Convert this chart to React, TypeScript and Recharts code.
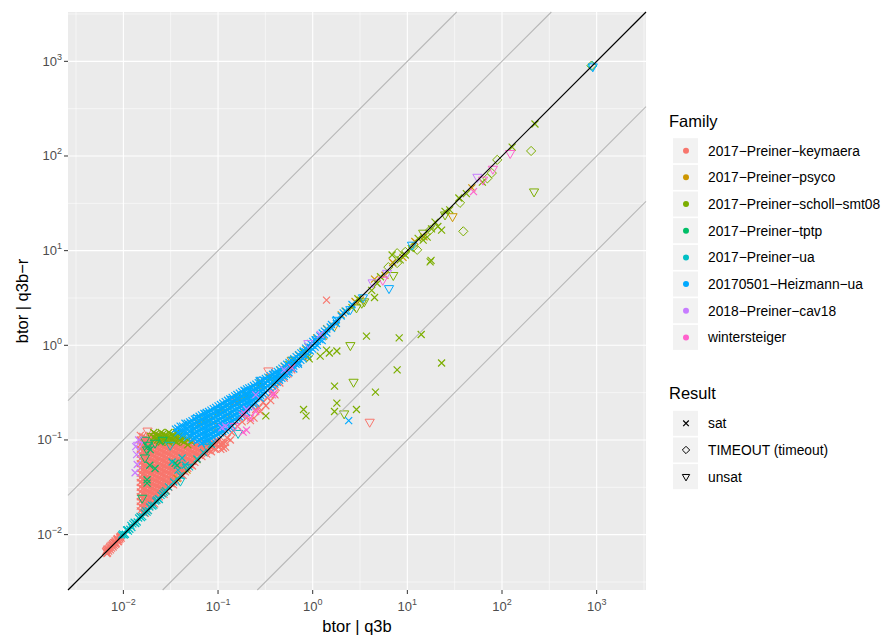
import React from "react";
import { ScatterChart, Scatter, XAxis, YAxis, CartesianGrid, ReferenceLine } from "recharts";

type Pt = [number, number];
type Col = [number, number[]];

const FAMILIES = [
  "2017−Preiner−keymaera",
  "2017−Preiner−psyco",
  "2017−Preiner−scholl−smt08",
  "2017−Preiner−tptp",
  "2017−Preiner−ua",
  "20170501−Heizmann−ua",
  "2018−Preiner−cav18",
  "wintersteiger",
];
const COLORS = ["#F8766D", "#CD9600", "#7CAE00", "#00BE67", "#00BFC4", "#00A9FF", "#C77CFF", "#FF61CC"];
const RESULTS = [
  { kind: "sat", label: "sat" },
  { kind: "timeout", label: "TIMEOUT (timeout)" },
  { kind: "unsat", label: "unsat" },
];

const MAJOR = [0.01, 0.1, 1, 10, 100, 1000];
const MINOR = [0.00316, 0.0316, 0.316, 3.16, 31.6, 316, 3162];
const DOMAIN: [number, number] = [0.0026, 3320];
const FACTORS = [100, 10, 1, 0.1, 0.01];

// 2017-Preiner-keymaera
const keymaeraSatDiag: Pt[] = [
  [0.0066, 0.0068], [0.0068, 0.0064], [0.0069, 0.0071], [0.0071, 0.0073], [0.0073, 0.0069], [0.0074, 0.0077],
  [0.0076, 0.0078], [0.0078, 0.0074], [0.0079, 0.0082], [0.0081, 0.0083], [0.0083, 0.0079], [0.0085, 0.0088],
  [0.0087, 0.0089], [0.0089, 0.0085], [0.0091, 0.0094], [0.0093, 0.0095],
  [0.0065, 0.0066], [0.0067, 0.0063], [0.0067, 0.007], [0.007, 0.0067], [0.0072, 0.0075], [0.0075, 0.0072],
  [0.0077, 0.008], [0.008, 0.0077], [0.0082, 0.0086], [0.0084, 0.0081], [0.0086, 0.0091], [0.0088, 0.0084],
  [0.009, 0.0088], [0.0092, 0.009], [0.0094, 0.0097], [0.0095, 0.0092],
];
const keymaeraSatCloud: Col[] = [
  [0.0151, [0.112, 0.1, 0.0891, 0.0794, 0.0708, 0.0631, 0.0562, 0.0501, 0.0447, 0.0398, 0.0355, 0.0316, 0.0282, 0.0251, 0.0224, 0.02, 0.0178]],
  [0.017, [0.106, 0.0944, 0.0841, 0.075, 0.0668, 0.0596, 0.0531, 0.0473, 0.0422, 0.0376, 0.0335, 0.0299, 0.0266, 0.0237, 0.0211, 0.0188, 0.0168]],
  [0.019, [0.112, 0.1, 0.0891, 0.0794, 0.0708, 0.0631, 0.0562, 0.0501, 0.0447, 0.0398, 0.0355, 0.0316, 0.0282, 0.0251, 0.0224, 0.02]],
  [0.0214, [0.106, 0.0944, 0.0841, 0.075, 0.0668, 0.0596, 0.0531, 0.0473, 0.0422, 0.0376, 0.0335, 0.0299, 0.0266, 0.0237, 0.0211]],
  [0.024, [0.112, 0.1, 0.0891, 0.0794, 0.0708, 0.0631, 0.0562, 0.0501, 0.0447, 0.0398, 0.0355, 0.0316, 0.0282, 0.0251]],
  [0.0269, [0.106, 0.0944, 0.0841, 0.075, 0.0668, 0.0596, 0.0531, 0.0473, 0.0422, 0.0376, 0.0335, 0.0299, 0.0266]],
  [0.0302, [0.1, 0.0891, 0.0794, 0.0708, 0.0631, 0.0562, 0.0501, 0.0447, 0.0398, 0.0355, 0.0316]],
  [0.0339, [0.0944, 0.0841, 0.075, 0.0668, 0.0596, 0.0531, 0.0473, 0.0422, 0.0376, 0.0335]],
  [0.038, [0.1, 0.0891, 0.0794, 0.0708, 0.0631, 0.0562, 0.0501, 0.0447, 0.0398]],
  [0.0427, [0.0944, 0.0841, 0.075, 0.0668, 0.0596, 0.0531, 0.0473, 0.0422]],
  [0.0479, [0.0891, 0.0794, 0.0708, 0.0631, 0.0562, 0.0501]],
  [0.0537, [0.0944, 0.0841, 0.075, 0.0668, 0.0596, 0.0531]],
  [0.0603, [0.0891, 0.0794, 0.0708, 0.0631]],
  [0.0676, [0.0841, 0.075, 0.0668]],
  [0.0759, [0.0891, 0.0794, 0.0708]],
  [0.0851, [0.0944, 0.0841, 0.075]],
  [0.0955, [0.1, 0.0891, 0.0794]],
  [0.107, [0.0891, 0.0794]],
  [0.12, [0.0944, 0.0841]],
  [0.135, [0.1]],
];
const keymaeraSatCloudFill: Col[] = [
  [0.016, [0.109, 0.0972, 0.0866, 0.0772, 0.0688, 0.0613, 0.0546, 0.0487, 0.0434, 0.0387, 0.0345, 0.0307, 0.0274, 0.0244, 0.0218, 0.0194, 0.0173]],
  [0.018, [0.103, 0.0917, 0.0818, 0.0729, 0.065, 0.0579, 0.0516, 0.046, 0.041, 0.0365, 0.0326, 0.029, 0.0259, 0.0231, 0.0205, 0.0183]],
  [0.0202, [0.109, 0.0972, 0.0866, 0.0772, 0.0688, 0.0613, 0.0546, 0.0487, 0.0434, 0.0387, 0.0345, 0.0307, 0.0274, 0.0244, 0.0218]],
  [0.0226, [0.103, 0.0917, 0.0818, 0.0729, 0.065, 0.0579, 0.0516, 0.046, 0.041, 0.0365, 0.0326, 0.029, 0.0259, 0.0231]],
  [0.0254, [0.109, 0.0972, 0.0866, 0.0772, 0.0688, 0.0613, 0.0546, 0.0487, 0.0434, 0.0387, 0.0345, 0.0307, 0.0274]],
  [0.0285, [0.103, 0.0917, 0.0818, 0.0729, 0.065, 0.0579, 0.0516, 0.046, 0.041, 0.0365, 0.0326, 0.029]],
  [0.032, [0.0972, 0.0866, 0.0772, 0.0688, 0.0613, 0.0546, 0.0487, 0.0434, 0.0387, 0.0345]],
  [0.0359, [0.0917, 0.0818, 0.0729, 0.065, 0.0579, 0.0516, 0.046, 0.041, 0.0365]],
  [0.0403, [0.0972, 0.0866, 0.0772, 0.0688, 0.0613, 0.0546, 0.0487, 0.0434]],
  [0.0452, [0.0917, 0.0818, 0.0729, 0.065, 0.0579, 0.0516, 0.046]],
  [0.0507, [0.0866, 0.0772, 0.0688, 0.0613, 0.0546]],
  [0.0569, [0.0917, 0.0818, 0.0729, 0.065, 0.0579]],
  [0.0638, [0.0866, 0.0772, 0.0688]],
  [0.0716, [0.0917, 0.0818, 0.0729]],
  [0.0804, [0.0866, 0.0772]],
  [0.0902, [0.0917, 0.0818]],
  [0.101, [0.0972, 0.0866]],
  [0.114, [0.0917, 0.0818]],
];
const keymaeraSatBand: Pt[] = [
  [0.11, 0.095], [0.125, 0.105], [0.14, 0.12], [0.16, 0.14], [0.18, 0.155], [0.2, 0.17], [0.22, 0.16], [0.24, 0.17],
  [0.25, 0.21], [0.27, 0.22], [0.28, 0.2], [0.3, 0.25], [0.32, 0.23], [0.33, 0.28], [0.36, 0.26], [0.37, 0.32],
  [0.4, 0.3], [0.41, 0.36], [0.45, 0.4], [0.5, 0.45], [0.55, 0.5], [0.6, 0.55], [0.7, 0.65], [0.8, 0.75],
  [0.15, 0.25], [0.28, 0.42], [1.4, 3.0],
];
const keymaeraUnsat: Pt[] = [[0.018, 0.125], [0.34, 0.54], [4.0, 0.155]];

// 2017-Preiner-psyco
const psycoSat: Pt[] = [
  [0.028, 0.029], [0.037, 0.039], [0.047, 0.048], [0.06, 0.062], [0.05, 0.11], [0.063, 0.15], [0.079, 0.16],
  [0.11, 0.21], [0.13, 0.18], [0.16, 0.25], [0.2, 0.29], [0.25, 0.35], [0.3, 0.37], [0.35, 0.45], [0.45, 0.5],
  [0.5, 0.6], [0.71, 0.79], [0.85, 0.9], [1.1, 1.2], [1.3, 1.25], [1.4, 1.5], [2.0, 2.1], [2.8, 2.9], [3.2, 3.0],
  [4.5, 5.0], [5.8, 5.5], [7, 7.5], [9, 8.5], [12, 12.5], [15, 14], [48, 46],
];
const psycoUnsat: Pt[] = [[0.16, 0.26], [0.6, 0.7], [30, 23], [0.09, 0.14], [1.7, 1.6]];

// 2017-Preiner-scholl-smt08
const schollSatTop: Col[] = [
  [0.0209, [0.12, 0.107]], [0.0219, [0.116, 0.103]], [0.0229, [0.113, 0.1]], [0.024, [0.11, 0.098]],
  [0.0251, [0.12, 0.107, 0.095]], [0.0263, [0.116, 0.103]], [0.0275, [0.113, 0.1]], [0.0288, [0.11, 0.098]],
  [0.0302, [0.12, 0.107, 0.095]], [0.0316, [0.116, 0.103]], [0.0331, [0.113, 0.1]], [0.0347, [0.11, 0.098]],
  [0.0363, [0.12, 0.107, 0.095]], [0.038, [0.116, 0.103]], [0.0398, [0.113, 0.1]], [0.0417, [0.11, 0.098]],
  [0.0437, [0.107, 0.095]], [0.0479, [0.1, 0.089]], [0.0525, [0.095]],
];
const schollSat: Pt[] = [
  [0.056, 0.13], [0.071, 0.16], [0.089, 0.17], [0.1, 0.2], [0.13, 0.22], [0.16, 0.28], [0.2, 0.3], [0.25, 0.35],
  [0.28, 0.4], [0.35, 0.45], [0.45, 0.55], [0.56, 0.63], [0.63, 0.7], [0.79, 0.85], [0.9, 0.95], [0.5, 0.5], [0.4, 0.42],
  [0.92, 0.72], [1.2, 0.77], [1.4, 0.89], [1.5, 0.83], [1.8, 0.87], [0.89, 0.76],
  [23, 0.65], [14, 1.3], [8.2, 1.2], [3.7, 1.25], [7.8, 0.55], [1.7, 0.37], [4.6, 0.32], [1.8, 0.245], [2.9, 0.21],
  [1.7, 0.2], [0.8, 0.21], [0.85, 0.18], [0.32, 0.18], [17.4, 7.6], [17.8, 7.9],
  [2.2, 2.3], [2.6, 2.5], [3, 3.1], [4.2, 3.8], [4.5, 3.2], [4.8, 4.5], [5.2, 5.3], [6.9, 9.0], [8.4, 8.0], [9.5, 9],
  [11, 10.5], [13, 13.5], [14.7, 12.9], [16.2, 13.9], [18, 17], [19.6, 20], [21, 18], [23, 16.5], [25, 26], [28, 27],
  [35, 36], [42, 40], [62, 53], [128, 124], [223, 218],
];
const schollTimeout: Pt[] = [
  [6.3, 6.7], [7.8, 7.4], [7.8, 9.4], [9.5, 9.7], [11.5, 10.9], [12.7, 10.2], [17.4, 16.5], [36, 32], [39, 16],
  [70, 58], [78, 66], [89, 91], [203, 113], [880, 900],
];
const schollUnsat: Pt[] = [
  [2.5, 1.0], [2.7, 0.41], [2.15, 0.19], [2.9, 2.5], [3.3, 2.8], [3.5, 2.9], [7.1, 5.5], [14.7, 15.4], [25, 24],
  [218, 42], [0.02, 0.11],
];

// 2017-Preiner-tptp
const tptpSat: Pt[] = [
  [0.0182, 0.085], [0.0192, 0.079], [0.0216, 0.05], [0.0178, 0.038], [0.0352, 0.0567], [0.037, 0.054], [0.019, 0.054],
  [0.0178, 0.035],
];
const tptpUnsat: Pt[] = [
  [0.0169, 0.1], [0.0182, 0.0885], [0.0178, 0.079], [0.0169, 0.065], [0.0216, 0.093], [0.0158, 0.0244], [0.026, 0.1],
];

// 2017-Preiner-ua
const uaSat: Pt[] = [
  [0.0096, 0.0099], [0.0102, 0.0099], [0.011, 0.0113], [0.0117, 0.0114], [0.0126, 0.013], [0.0135, 0.0131],
  [0.0145, 0.015], [0.0155, 0.0151], [0.0166, 0.017], [0.0178, 0.0173], [0.019, 0.0196], [0.0204, 0.02],
  [0.0219, 0.0226], [0.0234, 0.024], [0.025, 0.026], [0.027, 0.028], [0.03, 0.032], [0.034, 0.036],
  [0.0098, 0.0102], [0.0105, 0.0101], [0.0108, 0.0112], [0.0113, 0.0109], [0.012, 0.0125], [0.0123, 0.0119],
  [0.013, 0.0135], [0.014, 0.0136], [0.015, 0.0156], [0.016, 0.0155], [0.0172, 0.0178], [0.0184, 0.0179],
  [0.0197, 0.0205], [0.021, 0.0205], [0.0225, 0.0232], [0.024, 0.0235], [0.026, 0.027], [0.028, 0.029],
  [0.0327, 0.0585], [0.0417, 0.0645], [0.045, 0.054], [0.0378, 0.048],
  [0.04, 0.042], [0.05, 0.052], [0.06, 0.063], [0.07, 0.074], [0.085, 0.09],
];
const uaTimeout: Pt[] = [[900, 895]];
const uaUnsat: Pt[] = [[0.163, 0.118], [0.0312, 0.0885], [0.0766, 0.0843], [0.0471, 0.0518], [0.04, 0.037]];

// 20170501-Heizmann-ua
const heizmannSatBand: Col[] = [
  [0.0355, [0.13]],
  [0.0398, [0.14, 0.125]],
  [0.0447, [0.15, 0.135, 0.12]],
  [0.0501, [0.155, 0.14, 0.125, 0.112]],
  [0.0562, [0.166, 0.148, 0.132, 0.117, 0.105]],
  [0.0631, [0.178, 0.158, 0.141, 0.126, 0.112, 0.1]],
  [0.0708, [0.191, 0.17, 0.151, 0.135, 0.12, 0.107, 0.0955]],
  [0.0794, [0.2, 0.178, 0.158, 0.141, 0.126, 0.112, 0.1]],
  [0.0891, [0.214, 0.191, 0.17, 0.151, 0.135, 0.12, 0.107]],
  [0.1, [0.229, 0.204, 0.182, 0.162, 0.145, 0.129, 0.115]],
  [0.112, [0.245, 0.219, 0.195, 0.174, 0.155, 0.138, 0.123]],
  [0.126, [0.263, 0.234, 0.209, 0.186, 0.166, 0.148, 0.132]],
  [0.141, [0.282, 0.251, 0.224, 0.2, 0.178, 0.158, 0.141]],
  [0.158, [0.302, 0.269, 0.24, 0.214, 0.191, 0.17]],
  [0.178, [0.324, 0.288, 0.257, 0.229, 0.204, 0.182]],
  [0.2, [0.347, 0.309, 0.275, 0.245, 0.219, 0.195]],
  [0.224, [0.363, 0.324, 0.288, 0.257, 0.229]],
  [0.251, [0.389, 0.347, 0.309, 0.275, 0.245]],
  [0.282, [0.417, 0.372, 0.331, 0.295, 0.275]],
  [0.316, [0.447, 0.398, 0.355, 0.316]],
  [0.355, [0.479, 0.437, 0.389, 0.355]],
  [0.398, [0.513, 0.468, 0.427, 0.389]],
  [0.447, [0.55, 0.501, 0.457, 0.427]],
  [0.501, [0.603, 0.55, 0.501, 0.468]],
  [0.562, [0.661, 0.603, 0.55, 0.513]],
  [0.631, [0.724, 0.661, 0.603, 0.562]],
  [0.708, [0.794, 0.724, 0.661, 0.631]],
  [0.794, [0.871, 0.794, 0.724]],
  [0.891, [0.977, 0.891, 0.813]],
  [1.0, [1.1, 1.0, 0.912]],
  [1.12, [1.2, 1.1, 1.0]],
  [1.26, [1.35, 1.23, 1.12]],
  [1.41, [1.48, 1.35]],
  [1.58, [1.66, 1.51]],
  [1.78, [1.86, 1.7]],
  [2.0, [2.04]],
  [2.24, [2.29]],
];
const heizmannSatBandFill: Col[] = [
  [0.0376, [0.133, 0.119]],
  [0.0422, [0.14, 0.124, 0.111]],
  [0.0473, [0.15, 0.133, 0.119, 0.106]],
  [0.0531, [0.16, 0.143, 0.127, 0.114, 0.101]],
  [0.0596, [0.172, 0.153, 0.136, 0.122, 0.108, 0.0966]],
  [0.0668, [0.184, 0.164, 0.146, 0.13, 0.116, 0.104, 0.0923]],
  [0.075, [0.195, 0.174, 0.155, 0.138, 0.123, 0.11, 0.0977]],
  [0.0841, [0.207, 0.184, 0.164, 0.146, 0.13, 0.116, 0.104]],
  [0.0944, [0.221, 0.197, 0.176, 0.157, 0.14, 0.124, 0.111]],
  [0.106, [0.237, 0.211, 0.188, 0.168, 0.15, 0.133, 0.119]],
  [0.119, [0.254, 0.226, 0.202, 0.18, 0.16, 0.143, 0.127]],
  [0.133, [0.272, 0.243, 0.216, 0.193, 0.172, 0.153, 0.136]],
  [0.15, [0.292, 0.26, 0.232, 0.207, 0.184, 0.164]],
  [0.168, [0.313, 0.279, 0.248, 0.221, 0.197, 0.176]],
  [0.188, [0.335, 0.299, 0.266, 0.237, 0.211, 0.191]],
  [0.211, [0.355, 0.316, 0.282, 0.251, 0.224]],
  [0.237, [0.376, 0.335, 0.299, 0.266, 0.24]],
  [0.266, [0.403, 0.359, 0.32, 0.285]],
  [0.299, [0.432, 0.385, 0.343, 0.305]],
  [0.335, [0.462, 0.417, 0.372, 0.335]],
  [0.376, [0.495, 0.447, 0.407, 0.372]],
  [0.422, [0.531, 0.484, 0.442, 0.407]],
  [0.473, [0.575, 0.525, 0.479, 0.447]],
  [0.531, [0.631, 0.575, 0.525, 0.49]],
  [0.596, [0.692, 0.631, 0.575]],
  [0.668, [0.759, 0.692, 0.631]],
  [0.75, [0.832, 0.759, 0.692]],
  [0.841, [0.933, 0.851, 0.776]],
  [0.944, [1.05, 0.955, 0.871]],
  [1.06, [1.15, 1.05, 0.955]],
  [1.19, [1.26, 1.15]],
  [1.33, [1.41, 1.29]],
];
const heizmannSat: Pt[] = [[2.4, 0.16], [2.1, 2.2], [1.53, 1.56], [2.6, 2.7]];
const heizmannUnsat: Pt[] = [
  [0.06, 0.17], [0.075, 0.19], [0.1, 0.21], [0.14, 0.27], [0.2, 0.33], [0.28, 0.43], [0.4, 0.5], [0.63, 0.7],
  [1.1, 1.15], [1.8, 1.85], [2.5, 2.4], [3.4, 3.2], [6.4, 4.0], [11.2, 11.5], [910, 880],
];

// 2018-Preiner-cav18
const cav18Sat: Pt[] = [
  [0.0135, 0.085], [0.0138, 0.07], [0.014, 0.055], [0.0133, 0.045], [0.0145, 0.1], [0.11, 0.135], [0.12, 0.14],
  [0.2, 0.21], [0.25, 0.3], [0.5, 0.55], [1.2, 1.3],
];
const cav18Unsat: Pt[] = [[0.0143, 0.0885], [0.9, 1.05], [4.3, 4.6], [6.1, 5.8], [55, 60]];

// wintersteiger
const winterSat: Pt[] = [
  [0.184, 0.121], [0.2, 0.127], [0.18, 0.183], [0.19, 0.19], [0.22, 0.17], [0.25, 0.2], [0.375, 0.3], [0.39, 0.31],
  [0.6, 0.58], [50, 42],
];
const winterUnsat: Pt[] = [[0.15, 0.14], [5.5, 4.9], [63, 56], [80, 73], [122, 107]];

const pts = (list: Pt[]) => list.map(([x, y]) => ({ x, y }));
const cols = (list: Col[]) => list.flatMap(([x, ys]) => ys.map((y) => ({ x, y })));

const series = [
  {
    fam: 0,
    kind: "sat",
    data: [...pts(keymaeraSatDiag), ...cols(keymaeraSatCloud), ...cols(keymaeraSatCloudFill), ...pts(keymaeraSatBand)],
  },
  { fam: 0, kind: "unsat", data: pts(keymaeraUnsat) },
  { fam: 1, kind: "sat", data: pts(psycoSat) },
  { fam: 1, kind: "unsat", data: pts(psycoUnsat) },
  { fam: 2, kind: "sat", data: [...cols(schollSatTop), ...pts(schollSat)] },
  { fam: 2, kind: "timeout", data: pts(schollTimeout) },
  { fam: 2, kind: "unsat", data: pts(schollUnsat) },
  { fam: 3, kind: "sat", data: pts(tptpSat) },
  { fam: 3, kind: "unsat", data: pts(tptpUnsat) },
  { fam: 4, kind: "sat", data: pts(uaSat) },
  { fam: 4, kind: "timeout", data: pts(uaTimeout) },
  { fam: 4, kind: "unsat", data: pts(uaUnsat) },
  { fam: 5, kind: "sat", data: [...cols(heizmannSatBand), ...cols(heizmannSatBandFill), ...pts(heizmannSat)] },
  { fam: 5, kind: "unsat", data: pts(heizmannUnsat) },
  { fam: 6, kind: "sat", data: pts(cav18Sat) },
  { fam: 6, kind: "unsat", data: pts(cav18Unsat) },
  { fam: 7, kind: "sat", data: pts(winterSat) },
  { fam: 7, kind: "unsat", data: pts(winterUnsat) },
];

const FONT = "'Liberation Sans', Arial, sans-serif";

function Mark({ cx, cy, kind, color, s = 1 }: any) {
  if (cx == null || cy == null) return <g />;
  let d;
  if (kind === "sat") {
    const r = 3.5 * s;
    d = `M${cx - r},${cy - r}L${cx + r},${cy + r}M${cx - r},${cy + r}L${cx + r},${cy - r}`;
  } else if (kind === "timeout") {
    const r = 4.6 * s;
    d = `M${cx},${cy - r}L${cx + r},${cy}L${cx},${cy + r}L${cx - r},${cy}Z`;
  } else {
    const w = 4.6 * s;
    d = `M${cx - w},${cy - 2.7 * s}L${cx + w},${cy - 2.7 * s}L${cx},${cy + 5.3 * s}Z`;
  }
  return <path d={d} fill="none" stroke={color} strokeWidth={kind === "sat" ? 1.2 : 1} />;
}

const expLabel = (v: number) => {
  const e = Math.round(Math.log10(v));
  return e < 0 ? `−${-e}` : `${e}`;
};

function XTick(p: any) {
  return (
    <text x={p.x} y={p.y + 15} textAnchor="middle" fill="#4D4D4D" fontSize={13} fontFamily={FONT}>
      <tspan>10</tspan>
      <tspan dy={-6} fontSize={9}>{expLabel(p.payload.value)}</tspan>
    </text>
  );
}

function YTick(p: any) {
  return (
    <text x={p.x} y={p.y + 4.5} textAnchor="end" fill="#4D4D4D" fontSize={13} fontFamily={FONT}>
      <tspan>10</tspan>
      <tspan dy={-6} fontSize={9}>{expLabel(p.payload.value)}</tspan>
    </text>
  );
}

function Overlay() {
  const rowY = (i: number) => 150.7 + i * 26.67;
  const resY = (i: number) => 423.3 + i * 26.67;
  return (
    <svg width={884} height={640} style={{ position: "absolute", left: 0, top: 0, pointerEvents: "none" }} fontFamily={FONT}>
      <text x={357} y={632} textAnchor="middle" fontSize={16.5} fill="#000">btor | q3b</text>
      <text x={28} y={301} textAnchor="middle" fontSize={16.5} fill="#000" transform="rotate(-90 28 301)">btor | q3b−r</text>
      <text x={669} y={127} fontSize={16.5} fill="#000">Family</text>
      {FAMILIES.map((f, i) => (
        <g key={f}>
          <rect x={673} y={rowY(i) - 12.5} width={25} height={25} fill="#F2F2F2" />
          <circle cx={686} cy={rowY(i)} r={3} fill={COLORS[i]} />
          <text x={708} y={rowY(i) + 5} fontSize={13.8} fill="#000">{f}</text>
        </g>
      ))}
      <text x={669} y={399} fontSize={16.5} fill="#000">Result</text>
      {RESULTS.map((r, i) => (
        <g key={r.kind}>
          <rect x={673} y={resY(i) - 12.5} width={25} height={25} fill="#F2F2F2" />
          <Mark cx={686} cy={resY(i)} kind={r.kind} color="#000" s={0.8} />
          <text x={708} y={resY(i) + 5} fontSize={13.8} fill="#000">{r.label}</text>
        </g>
      ))}
    </svg>
  );
}

export default function App() {
  return (
    <div style={{ position: "absolute", left: 0, top: 0, width: 884, height: 640, background: "#fff" }}>
      <ScatterChart width={884} height={640} margin={{ top: 12, right: 238, bottom: 0, left: 0 }}>
        <CartesianGrid fill="#EBEBEB" stroke="#FFFFFF" strokeWidth={0.55} verticalValues={MINOR} horizontalValues={MINOR} />
        <CartesianGrid stroke="#FFFFFF" strokeWidth={1.1} verticalValues={MAJOR} horizontalValues={MAJOR} />
        <XAxis
          type="number"
          dataKey="x"
          scale="log"
          domain={DOMAIN}
          allowDataOverflow
          ticks={MAJOR}
          interval={0}
          height={50}
          axisLine={false}
          tickLine={{ stroke: "#333333" }}
          tickSize={4}
          tickMargin={2}
          tick={(p: any) => <XTick {...p} />}
        />
        <YAxis
          type="number"
          dataKey="y"
          scale="log"
          domain={DOMAIN}
          allowDataOverflow
          ticks={MAJOR}
          interval={0}
          width={68}
          axisLine={false}
          tickLine={{ stroke: "#333333" }}
          tickSize={4}
          tickMargin={2}
          tick={(p: any) => <YTick {...p} />}
        />
        {series.map((s, i) => (
          <Scatter
            key={i}
            data={s.data}
            isAnimationActive={false}
            shape={(p: any) => <Mark cx={p.cx} cy={p.cy} kind={s.kind} color={COLORS[s.fam]} />}
          />
        ))}
        {FACTORS.map((k) => {
          const x0 = k >= 1 ? DOMAIN[0] : DOMAIN[0] / k;
          const x1 = k >= 1 ? DOMAIN[1] / k : DOMAIN[1];
          return (
            <ReferenceLine
              key={k}
              segment={[{ x: x0, y: x0 * k }, { x: x1, y: x1 * k }]}
              stroke={k === 1 ? "#000000" : "#B8B8B8"}
              strokeWidth={k === 1 ? 1.2 : 1.1}
              ifOverflow="visible"
              zIndex={700}
            />
          );
        })}
      </ScatterChart>
      <Overlay />
    </div>
  );
}
